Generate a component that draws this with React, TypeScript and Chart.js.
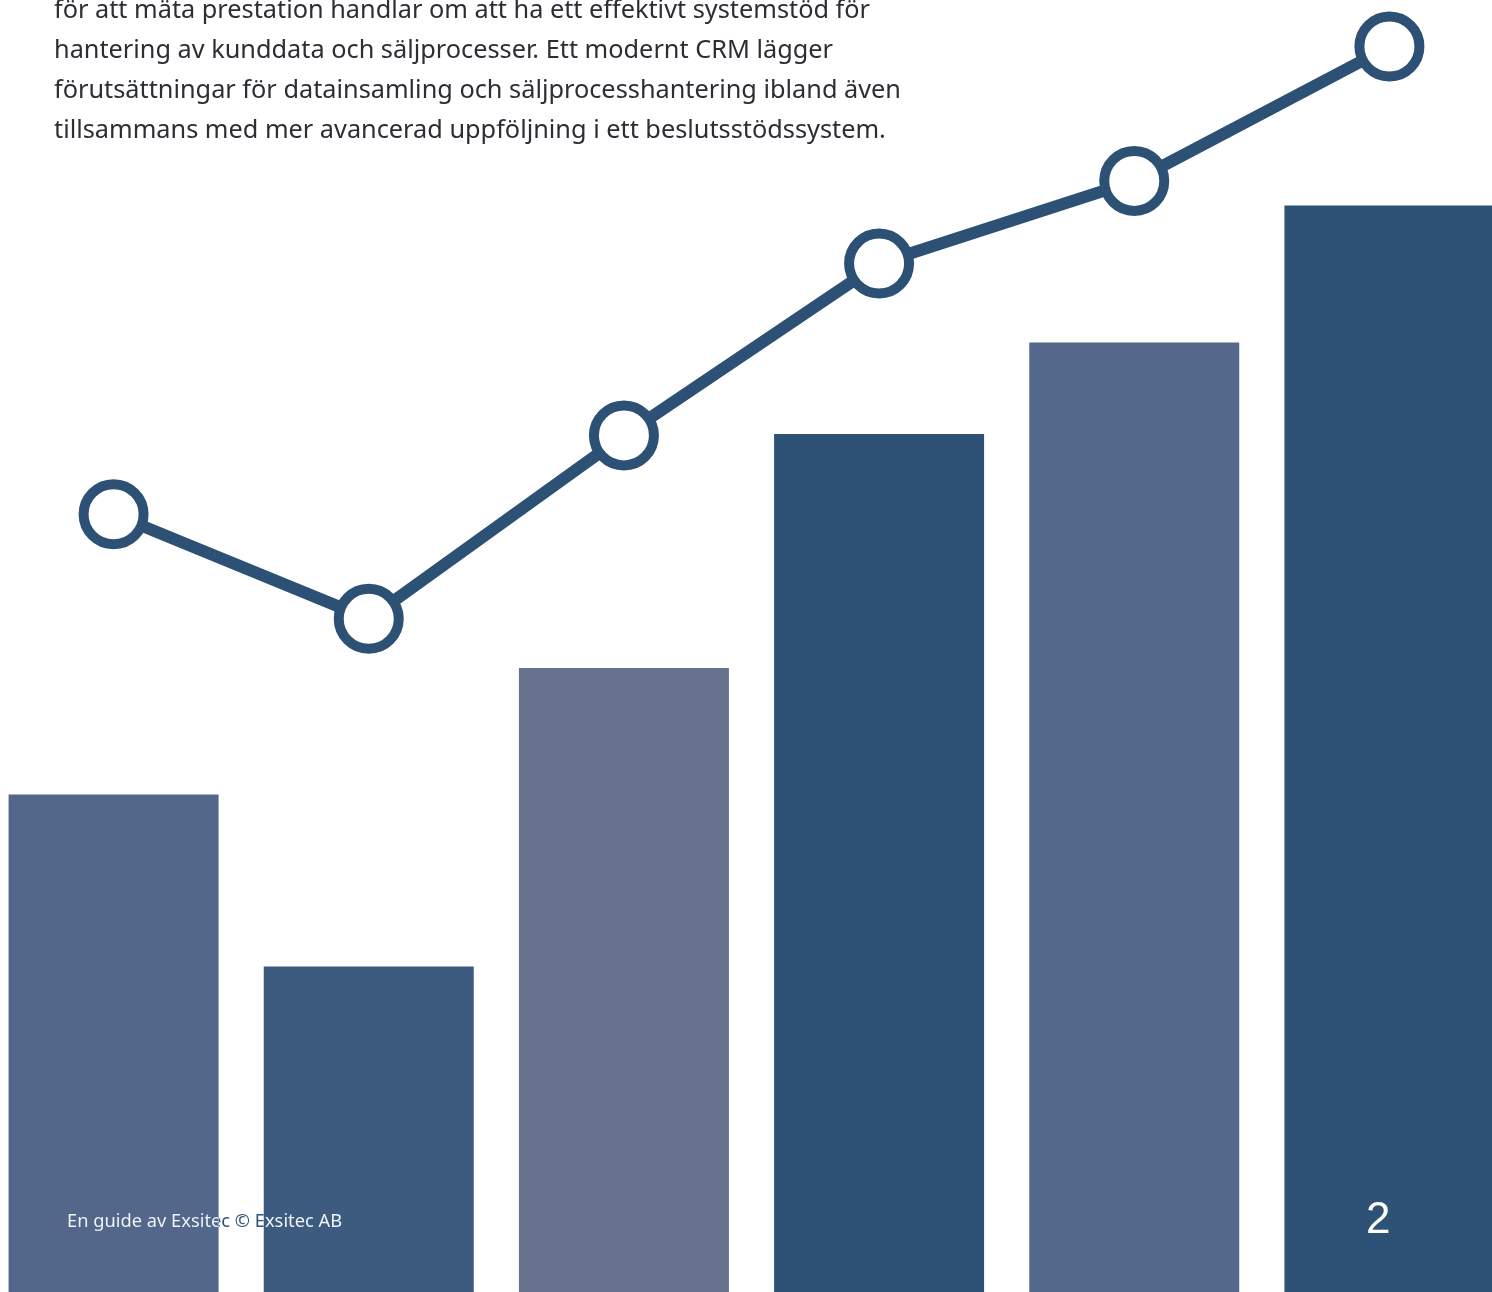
import React, { useEffect, useRef } from "react";
import { Chart, registerables } from "chart.js";

Chart.register(...registerables);

const categories = ["1", "2", "3", "4", "5", "6"];
const barValues = [38.5, 25.2, 48.3, 66.4, 73.5, 84.1];
const lineValues = [60.2, 52.1, 66.3, 79.6, 86.0, 96.4];
const barColors = ["#53678A", "#3D5B7E", "#66728E", "#2E5276", "#53688A", "#2E5276"];
const lineColor = "#2D5175";

const paragraphLines = [
  "för att mäta prestation handlar om att ha ett effektivt systemstöd för",
  "hantering av kunddata och säljprocesser. Ett modernt CRM lägger",
  "förutsättningar för datainsamling och säljprocesshantering ibland även",
  "tillsammans med mer avancerad uppföljning i ett beslutsstödssystem.",
];
const footerText = "En guide av Exsitec © Exsitec AB";
const pageNumber = "2";

const CANVAS_LEFT = -14;
const CANVAS_W = 1531;
const CANVAS_H = 1292;

const footerPlugin = {
  id: "footerText",
  afterDraw(chart: any) {
    const ctx = chart.ctx as CanvasRenderingContext2D;
    const x = 67 - CANVAS_LEFT;
    const y = 1227;
    ctx.save();
    ctx.font = '18.3px "Noto Sans", sans-serif';
    ctx.textBaseline = "alphabetic";
    ctx.textAlign = "left";
    ctx.fillStyle = "#2E5276";
    ctx.fillText(footerText, x, y);
    const meta = chart.getDatasetMeta(1);
    meta.data.forEach((el: any) => {
      const p = el.getProps(["x", "y", "base", "width"], true);
      ctx.save();
      ctx.beginPath();
      ctx.rect(p.x - p.width / 2, p.y, p.width, p.base - p.y);
      ctx.clip();
      ctx.fillStyle = "#F2F4F8";
      ctx.fillText(footerText, x, y);
      ctx.restore();
    });
    ctx.restore();
  },
};

export default function App() {
  const ref = useRef<HTMLCanvasElement | null>(null);
  useEffect(() => {
    if (!ref.current) return;
    const chart = new Chart(ref.current, {
      type: "bar",
      data: {
        labels: categories,
        datasets: [
          {
            type: "line",
            label: "Trend",
            data: lineValues,
            borderColor: lineColor,
            borderWidth: 12,
            pointRadius: 30,
            pointHoverRadius: 30,
            pointBorderWidth: 10,
            pointBackgroundColor: "#FFFFFF",
            pointBorderColor: lineColor,
            tension: 0,
            fill: false,
            order: 0,
            clip: false as any,
          } as any,
          {
            type: "bar",
            label: "Värde",
            data: barValues,
            backgroundColor: barColors,
            borderWidth: 0,
            categoryPercentage: 1,
            barPercentage: 0.823,
            order: 1,
          },
        ],
      },
      options: {
        responsive: false,
        maintainAspectRatio: false,
        animation: false,
        layout: { padding: 0, autoPadding: false } as any,
        plugins: { legend: { display: false }, tooltip: { enabled: false } },
        scales: {
          x: { display: false, offset: true },
          y: { display: false, min: 0, max: 100 },
        },
      },
      plugins: [footerPlugin],
    });
    return () => chart.destroy();
  }, []);

  return (
    <div
      style={{
        position: "fixed",
        left: 0,
        top: 0,
        width: 1492,
        height: 1292,
        overflow: "hidden",
        background: "#FFFFFF",
      }}
    >
      <canvas
        ref={ref}
        width={CANVAS_W}
        height={CANVAS_H}
        style={{ position: "absolute", left: CANVAS_LEFT, top: 0, width: CANVAS_W, height: CANVAS_H }}
      />
      <div
        style={{
          position: "absolute",
          left: 54,
          top: -12,
          fontFamily: '"Noto Sans", sans-serif',
          fontSize: 25.3,
          lineHeight: "40px",
          color: "#2B2E35",
        }}
      >
        {paragraphLines.map((l, i) => (
          <div key={i} style={{ whiteSpace: "nowrap" }}>
            {l}
          </div>
        ))}
      </div>
      <div
        style={{
          position: "absolute",
          left: 1366,
          top: 1192,
          fontFamily: '"Liberation Sans", Arial, sans-serif',
          fontSize: 44,
          lineHeight: "52px",
          color: "#FFFFFF",
        }}
      >
        {pageNumber}
      </div>
    </div>
  );
}
